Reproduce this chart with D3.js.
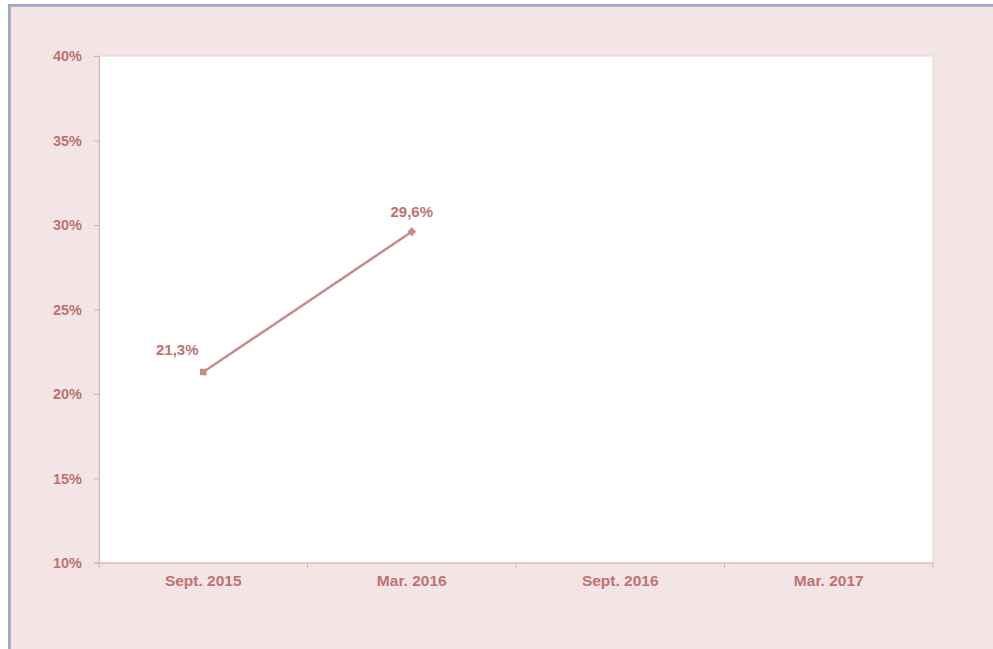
<!DOCTYPE html>
<html>
<head>
<meta charset="utf-8">
<script src="https://cdn.jsdelivr.net/npm/d3@7"></script>
<style>
  body { margin: 0; background: #fff; }
  svg text { font-family: "Liberation Sans", Arial, sans-serif; font-weight: bold; }
</style>
</head>
<body>
<div id="chart"></div>
<script>
const categories = ["Sept. 2015", "Mar. 2016", "Sept. 2016", "Mar. 2017"];
const values = [21.3, 29.6];
const valueLabels = ["21,3%", "29,6%"];
const yTicks = [10, 15, 20, 25, 30, 35, 40];

const width = 993, height = 649;
const textColor = "#c07271";
const lineColor = "#c98a89";

const svg = d3.select("#chart").append("svg")
    .attr("width", width)
    .attr("height", height);

// outer frame
svg.append("rect").attr("x", 0).attr("y", 0).attr("width", width).attr("height", height).attr("fill", "#fff");
svg.append("rect").attr("x", 8).attr("y", 4).attr("width", width - 8).attr("height", height - 4).attr("fill", "#93acd3");
svg.append("rect").attr("x", 10).attr("y", 6).attr("width", width - 10).attr("height", height - 6).attr("fill", "#d9a8a8");
svg.append("rect").attr("x", 11).attr("y", 7).attr("width", width - 11).attr("height", height - 7).attr("fill", "#f3e5e6");

const plot = {left: 99, top: 56, right: 933, bottom: 563};

svg.append("rect")
    .attr("x", plot.left).attr("y", plot.top)
    .attr("width", plot.right - plot.left).attr("height", plot.bottom - plot.top)
    .attr("fill", "#fff")
    .attr("stroke", "#ebcfcf")
    .attr("stroke-width", 1);

const x = d3.scaleBand().domain(categories).range([plot.left, plot.right]);
const y = d3.scaleLinear().domain([10, 40]).range([plot.bottom, plot.top]);

// y axis
const yAxis = svg.append("g")
    .attr("transform", "translate(" + plot.left + ",0)")
    .call(d3.axisLeft(y).tickValues(yTicks).tickSize(5).tickPadding(12).tickFormat(function(d) { return d + "%"; }));
yAxis.select(".domain").attr("stroke", "#ddb0b0");
yAxis.selectAll(".tick line").attr("stroke", "#ddb0b0");
yAxis.selectAll("text").attr("fill", textColor).attr("font-size", "14.5px")
    .attr("font-family", "Liberation Sans, Arial, sans-serif").attr("font-weight", "bold");

// x axis with ticks between categories
const xAxis = svg.append("g")
    .attr("transform", "translate(0," + plot.bottom + ")");
xAxis.append("line")
    .attr("x1", plot.left - 5).attr("x2", plot.right)
    .attr("stroke", "#ddb0b0");
const bounds = categories.map(function(c) { return x(c); }).concat([x(categories[categories.length - 1]) + x.bandwidth()]);
xAxis.selectAll(".xt").data(bounds).join("line")
    .attr("x1", function(d) { return d; }).attr("x2", function(d) { return d; })
    .attr("y1", 0).attr("y2", 5)
    .attr("stroke", "#ddb0b0");
xAxis.selectAll(".xl").data(categories).join("text")
    .attr("x", function(d) { return x(d) + x.bandwidth() / 2; })
    .attr("y", 23)
    .attr("text-anchor", "middle")
    .attr("fill", textColor)
    .attr("font-size", "15.5px")
    .text(function(d) { return d; });

// line
const pts = values.map(function(v, i) { return [x(categories[i]) + x.bandwidth() / 2, y(v)]; });
svg.append("path")
    .attr("d", d3.line()(pts))
    .attr("fill", "none")
    .attr("stroke", lineColor)
    .attr("stroke-width", 2.5);

// markers
svg.append("path")
    .attr("d", d3.symbol().type(d3.symbolSquare).size(42)())
    .attr("transform", "translate(" + pts[0][0] + "," + pts[0][1] + ")")
    .attr("fill", lineColor);
svg.append("path")
    .attr("d", d3.symbol().type(d3.symbolDiamond2).size(50)())
    .attr("transform", "translate(" + pts[1][0] + "," + pts[1][1] + ")")
    .attr("fill", lineColor);

// value labels
const labelOffsets = [[-26, -17], [0, -15]];
svg.selectAll(".vl").data(values).join("text")
    .attr("x", function(d, i) { return pts[i][0] + labelOffsets[i][0]; })
    .attr("y", function(d, i) { return pts[i][1] + labelOffsets[i][1]; })
    .attr("text-anchor", "middle")
    .attr("fill", textColor)
    .attr("font-size", "15px")
    .text(function(d, i) { return valueLabels[i]; });
</script>
</body>
</html>
